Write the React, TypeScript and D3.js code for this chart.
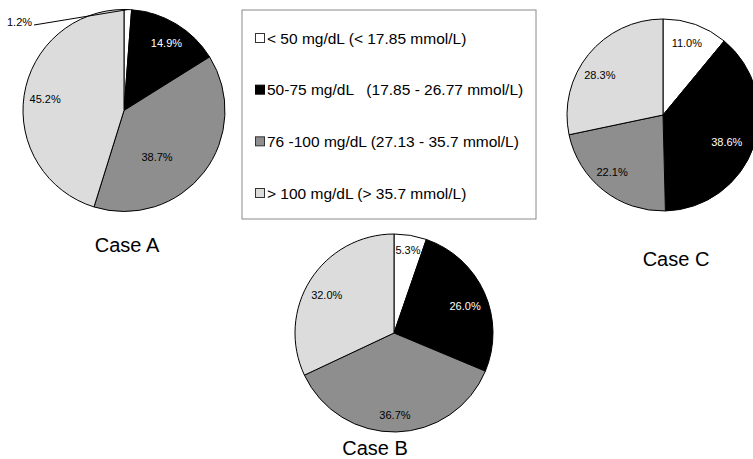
import React from "react";
import * as d3 from "d3";

// ---- Data ----
const categories = [
  "< 50 mg/dL (< 17.85 mmol/L)",
  "50-75 mg/dL   (17.85 - 26.77 mmol/L)",
  "76 -100 mg/dL (27.13 - 35.7 mmol/L)",
  "> 100 mg/dL (> 35.7 mmol/L)",
];
const caseNames = ["Case A", "Case B", "Case C"];
const caseA = [1.2, 14.9, 38.7, 45.2];
const caseB = [5.3, 26.0, 36.7, 32.0];
const caseC = [11.0, 38.6, 22.1, 28.3];
const seriesValues = [caseA, caseB, caseC];

// ---- Styling / layout ----
const W = 753;
const H = 459;
const colors = ["#ffffff", "#000000", "#8e8e8e", "#dcdcdc"];
const labelColors = ["#000", "#fff", "#000", "#000"];
const FONT = "'Liberation Sans', Arial, Helvetica, sans-serif";
const LABEL_SIZE = 11;

const pieLayout = [
  { cx: 124, cy: 110.5, r: 101, titleX: 127, titleY: 252 },
  { cx: 394, cy: 333, r: 99, titleX: 375, titleY: 455 },
  { cx: 663, cy: 115, r: 96, titleX: 676, titleY: 266 },
];
// per-label [angle offset (deg), radius fraction]; null = outside with leader
const labelTweak: ([number, number] | null)[][] = [
  [null, [1, 0.79], [17, 0.565], [0, 0.79]],
  [[0, 0.85], [3, 0.77], [0.6, 0.83], [-3, 0.78]],
  [[-1.5, 0.79], [3.6, 0.72], [3.2, 0.8], [-6.6, 0.78]],
];

const pieGen = d3
  .pie<number>()
  .sort(null)
  .value((d) => d)
  .startAngle(0)
  .endAngle(2 * Math.PI);

function Pie({ idx }: { idx: number }) {
  const values = seriesValues[idx];
  const L = pieLayout[idx];
  const arcs = pieGen(values);
  const arcGen = d3.arc<d3.PieArcDatum<number>>().innerRadius(0).outerRadius(L.r);
  const fmt = d3.format(".1f");
  return (
    <g>
      <g transform={`translate(${L.cx},${L.cy})`}>
        {arcs.map((a, i) => (
          <path key={i} d={arcGen(a) || ""} fill={colors[i]} stroke="#000" strokeWidth={1} />
        ))}
        {arcs.map((a, i) => {
          const tw = labelTweak[idx][i];
          const mid = (a.startAngle + a.endAngle) / 2;
          if (tw === null) {
            const ex = Math.sin(mid) * L.r;
            const ey = -Math.cos(mid) * L.r;
            const tx = 7 - L.cx;
            const ty = 22 - L.cy;
            return (
              <g key={"l" + i}>
                <path
                  d={`M${tx + 27},${ty + 3} L${ex - 6},${ey + 1} L${ex},${ey}`}
                  fill="none"
                  stroke="#000"
                  strokeWidth={1}
                />
                <text
                  x={tx}
                  y={ty}
                  fontSize={LABEL_SIZE}
                  fontFamily={FONT}
                  dominantBaseline="central"
                  fill="#000"
                >
                  {fmt(values[i])}%
                </text>
              </g>
            );
          }
          const ang = mid + (tw[0] * Math.PI) / 180;
          const rr = tw[1] * L.r;
          return (
            <text
              key={"l" + i}
              x={Math.sin(ang) * rr}
              y={-Math.cos(ang) * rr}
              fontSize={LABEL_SIZE}
              fontFamily={FONT}
              textAnchor="middle"
              dominantBaseline="central"
              fill={labelColors[i]}
            >
              {fmt(values[i])}%
            </text>
          );
        })}
      </g>
      <text
        x={L.titleX}
        y={L.titleY}
        fontSize={20}
        fontFamily={FONT}
        textAnchor="middle"
        fill="#000"
      >
        {caseNames[idx]}
      </text>
    </g>
  );
}

function Legend() {
  const x0 = 242;
  const y0 = 10;
  const w = 294;
  const h = 209;
  const rowY = d3.scalePoint<number>().domain(d3.range(categories.length)).range([38, 193]);
  return (
    <g>
      <rect x={x0} y={y0} width={w} height={h} fill="#fff" stroke="#8a8a8a" strokeWidth={1} />
      {categories.map((c, i) => {
        const y = rowY(i) as number;
        return (
          <g key={i}>
            <rect
              x={255.5}
              y={y - 4.5}
              width={9}
              height={9}
              fill={colors[i]}
              stroke={i === 1 ? "#000" : "#333"}
              strokeWidth={1}
            />
            <text
              x={267}
              y={y}
              fontSize={15.5}
              fontFamily={FONT}
              dominantBaseline="central"
              fill="#000"
              style={{ whiteSpace: "pre" }}
              xmlSpace="preserve"
            >
              {c}
            </text>
          </g>
        );
      })}
    </g>
  );
}

export default function App() {
  return (
    <svg
      width={W}
      height={H}
      viewBox={`0 0 ${W} ${H}`}
      style={{ position: "absolute", left: 0, top: 0, display: "block", background: "#fff" }}
    >
      <rect x={0} y={0} width={W} height={H} fill="#fff" />
      <Legend />
      {seriesValues.map((_, i) => (
        <Pie key={i} idx={i} />
      ))}
    </svg>
  );
}
